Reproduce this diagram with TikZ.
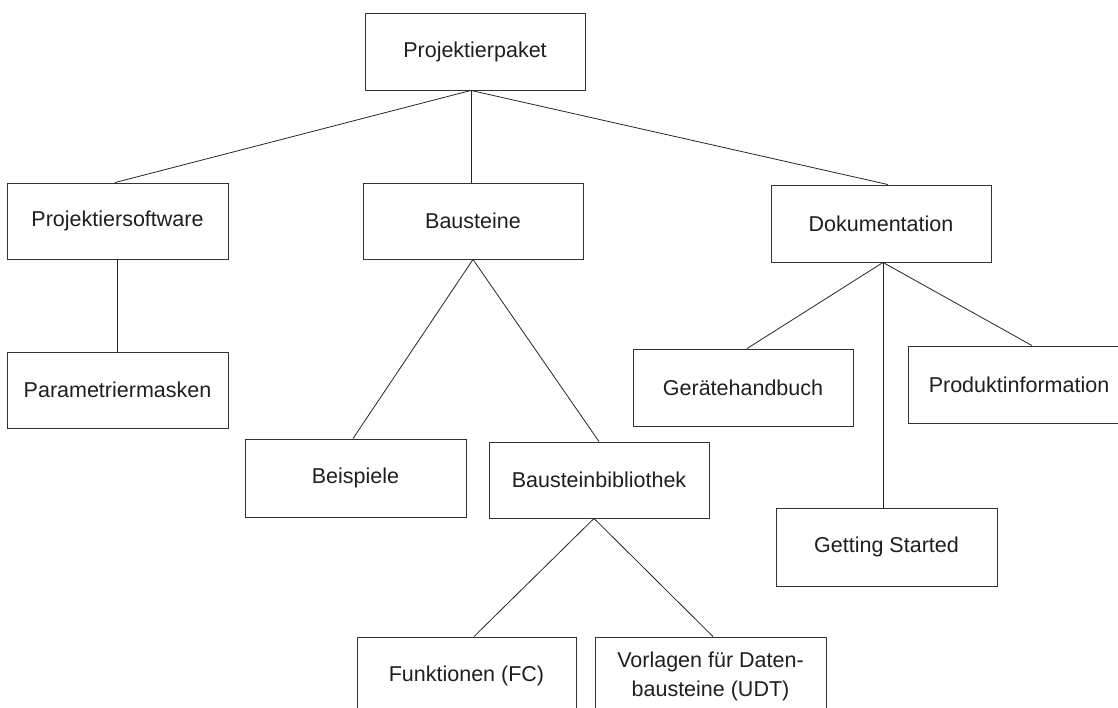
\documentclass[tikz,border=0pt]{standalone}
\usepackage{fontspec}
\setmainfont{Liberation Sans}
\begin{document}
\begin{tikzpicture}[x=1pt,y=-1pt,
  box/.style={draw=black!80, line width=0.9pt, fill=white, inner sep=0pt,
    align=center, text=black!88, font=\fontsize{21.5}{29}\selectfont},
  link/.style={draw=black!85, line width=0.8pt}]
  \clip (0,0) rectangle (1118,707);
  \fill[white] (0,0) rectangle (1118,707);

  % package root and first level
  \node[box, minimum width=220pt, minimum height=77pt] (paket) at (475,51.5) {Projektierpaket};
  \node[box, minimum width=221pt, minimum height=76pt] (soft) at (117.5,221) {Projektiersoftware};
  \node[box, minimum width=220pt, minimum height=76pt] (baus) at (473,221) {Bausteine};
  \node[box, minimum width=220pt, minimum height=77pt] (doku) at (881,223.5) {Dokumentation};

  % second level
  \node[box, minimum width=221pt, minimum height=76pt] (param) at (117.5,390) {Parametriermasken};
  \node[box, minimum width=221pt, minimum height=78pt] (beisp) at (355.5,478) {Beispiele};
  \node[box, minimum width=220pt, minimum height=76pt] (bib) at (599,480) {Bausteinbibliothek};
  \node[box, minimum width=220pt, minimum height=77pt] (geraet) at (743,387.5) {Gerätehandbuch};
  \node[box, minimum width=222pt, minimum height=77pt] (prod) at (1019,384.5) {Produktinformation};
  \node[box, minimum width=221pt, minimum height=78pt] (getting) at (886.5,547) {Getting Started};

  % block library contents
  \node[box, minimum width=219pt, minimum height=78pt] (funk) at (466.5,676) {Funktionen (FC)};
  \node[box, minimum width=231pt, minimum height=78pt] (vorl) at (710.5,676) {Vorlagen für Daten-\\bausteine (UDT)};

  % connectors
  \draw[link] ([xshift=-4pt]paket.south) -- ([xshift=-2.5pt]soft.north);
  \draw[link] ([xshift=-4pt]paket.south) -- ([xshift=-2pt]baus.north);
  \draw[link] ([xshift=-4pt]paket.south) -- ([xshift=7pt]doku.north);
  \draw[link] (soft.south) -- (param.north);
  \draw[link] (baus.south) -- ([xshift=-2.5pt]beisp.north);
  \draw[link] (baus.south) -- (bib.north);
  \draw[link] ([xshift=2pt]doku.south) -- ([xshift=4pt]geraet.north);
  \draw[link] ([xshift=2pt]doku.south) -- ([xshift=-3.5pt]getting.north);
  \draw[link] ([xshift=2pt]doku.south) -- ([xshift=13pt]prod.north);
  \draw[link] ([xshift=-5pt]bib.south) -- ([xshift=7.5pt]funk.north);
  \draw[link] ([xshift=-5pt]bib.south) -- ([xshift=2.5pt]vorl.north);
\end{tikzpicture}
\end{document}
